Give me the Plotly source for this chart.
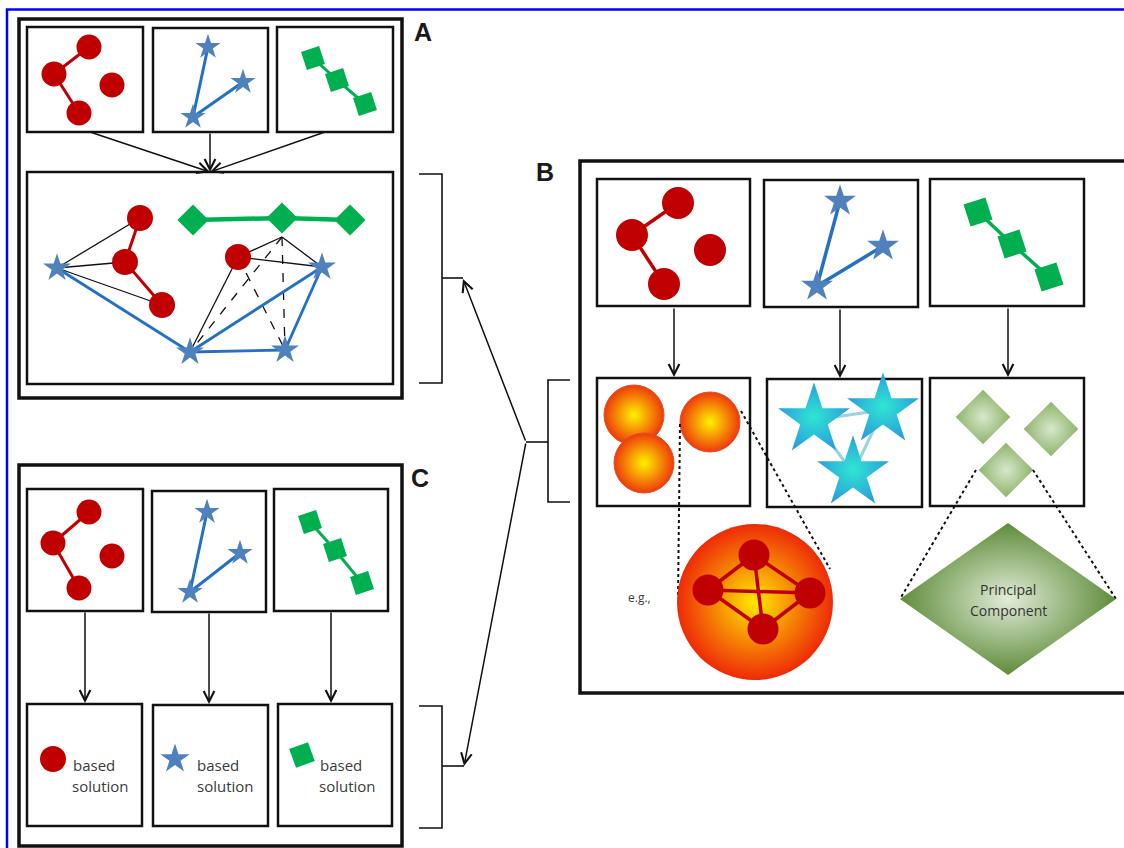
import plotly.graph_objects as go

W, H = 1124, 848

# ---------------- data (diagram element positions, image pixel coords) ----------------
FRAME_A = (19, 19, 402, 398)
FRAME_B = (580, 161, 1132, 693)
FRAME_C = (19, 465, 402, 846)

A_TOP_BOXES = [(27, 27, 143, 132), (153, 28, 268, 132), (277, 27, 393, 132)]
A_LOW_BOX = (27, 172, 393, 384)
B_ROW1_BOXES = [(597, 179, 750, 306), (764, 180, 918, 307), (930, 179, 1084, 306)]
B_ROW2_BOXES = [(597, 378, 750, 506), (767, 379, 922, 507), (930, 378, 1084, 506)]
C_ROW1_BOXES = [(27, 489, 143, 611), (152, 491, 266, 612), (274, 489, 388, 611)]
C_ROW2_BOXES = [(27, 704, 142, 826), (153, 705, 268, 826), (278, 704, 392, 826)]

# cluster glyphs in the small input boxes
A_RED_X, A_RED_Y = [89, 54, 112, 79], [47, 74, 85, 113]
A_STAR_X, A_STAR_Y = [208, 243, 193], [47, 82, 117]
A_GRN_X, A_GRN_Y = [313, 337, 365], [58, 80, 104]
C_RED_X, C_RED_Y = [89, 53, 112, 79], [512, 543, 556, 588]
C_STAR_X, C_STAR_Y = [207, 240, 190], [512, 553, 592]
C_GRN_X, C_GRN_Y = [310, 335, 362], [522, 550, 583]
B_RED_X, B_RED_Y = [678, 632, 710, 664], [203, 235, 250, 284]
B_STAR_X, B_STAR_Y = [840, 883, 817], [201, 246, 286]
B_GRN_X, B_GRN_Y = [978, 1012, 1049], [212, 244, 277]
RED_LINKS = [(0, 1), (1, 3)]
STAR_LINKS = [(2, 0), (2, 1)]

# panel A combined network
AL_RED_X, AL_RED_Y = [140, 125, 162, 238], [218, 262, 305, 257]
AL_STAR_X, AL_STAR_Y = [57, 190, 285, 322], [268, 352, 350, 267]
AL_DIA_X, AL_DIA_Y = [193, 282, 350], [220, 218, 220]
AL_TIP = (282, 237)
AL_BLUE_PATH = [0, 1, 2, 3, 1]
AL_SOLID = [("s", 0, "r", 0), ("s", 0, "r", 1), ("s", 0, "r", 2),
            ("r", 3, "t", 0), ("r", 3, "s", 3), ("r", 3, "s", 1), ("t", 0, "s", 3)]
AL_DASHED = [("r", 3, "s", 2), ("t", 0, "s", 1), ("t", 0, "s", 2)]

# panel B second row
B_SPH_X, B_SPH_Y = [634, 644, 710], [415, 463, 422]
B_CYAN_X, B_CYAN_Y = [814, 883, 853], [420, 410, 473]
B_CYAN_LINKS = [(0, 1), (1, 2), (0, 2)]
B_LGRN_X, B_LGRN_Y = [983, 1051, 1006], [417, 429, 470]

# panel B zoomed examples
BIG_SPHERE = (755, 602)
BIG_RED_X, BIG_RED_Y = [754, 708, 810, 763], [555, 590, 593, 629]
BIG_RED_LINKS = [(0, 1), (0, 2), (1, 3), (2, 3), (1, 2), (0, 3)]
SPH_DOTS = [((680, 424), (678, 599)), ((741, 411), (830, 569))]
PC_CENTER, PC_HALF = (1008, 599), (108, 76)
PC_DOTS = [((976, 470), (900, 599)), ((1033, 470), (1116, 599))]

# panel C solution icons and labels
C_SOL_X, C_SOL_Y = [53, 175, 302], [759, 759, 755]
C_TXT1_X, C_TXT2_X = [94, 218, 341], [100, 225, 347]
C_TXT_Y = [765, 786]

# arrows (tail -> head)
ARROWS = [((90, 132), (210, 172)), ((210, 132), (210, 172)), ((325, 132), (210, 172)),
          ((674, 307), (674, 377)), ((840, 308), (840, 378)), ((1008, 307), (1008, 377)),
          ((85, 611), (85, 703)), ((209, 612), (209, 704)), ((331, 611), (331, 703)),
          ((526, 442), (463, 279)), ((526, 442), (464, 766))]

# brackets: (x_spine, y_top, y_bottom, x_tick, y_mid, x_mid)
BRACKETS = [(442, 174, 383, 419, 278, 463), (442, 706, 828, 419, 766, 464),
            (548, 380, 502, 570, 442, 526)]

LABELS = [("A", 423, 32), ("B", 545, 172), ("C", 420, 478)]

RED = "#C00000"
STAR_BLUE = "#4F81BD"
LINE_BLUE = "#2370C4"
GREEN = "#00B050"
INK = "#111111"

fig = go.Figure()


def line(xs, ys, color=INK, width=1.5, dash="solid"):
    fig.add_trace(go.Scatter(x=xs, y=ys, mode="lines", hoverinfo="skip",
                             line=dict(color=color, width=width, dash=dash)))


def pts(xs, ys, symbol, size, color, angle=0, gradient=None, lw=0, lc=None):
    m = dict(symbol=symbol, size=size, color=color, angle=angle,
             line=dict(width=lw, color=lc or color))
    if gradient:
        m["gradient"] = dict(type="radial", color=gradient)
    fig.add_trace(go.Scatter(x=xs, y=ys, mode="markers", hoverinfo="skip", marker=m))


shapes = []


def rect(b, width=2.5):
    shapes.append(dict(type="rect", xref="x", yref="y", x0=b[0], y0=b[1], x1=b[2], y1=b[3],
                       line=dict(color=INK, width=width), fillcolor="rgba(0,0,0,0)",
                       layer="below"))


for fr in (FRAME_A, FRAME_B, FRAME_C):
    rect(fr, 3.5)
for b in A_TOP_BOXES + [A_LOW_BOX] + B_ROW1_BOXES + B_ROW2_BOXES + C_ROW1_BOXES + C_ROW2_BOXES:
    rect(b, 2.5)

# blue border
line([7, 7, W], [H, 9.5, 9.5], color="#0000FF", width=2.5)

# brackets
for xs, yt, yb, xt, ym, xm in BRACKETS:
    line([xt, xs, xs, xt], [yt, yt, yb, yb], width=1.6)
    line([xs, xm], [ym, ym], width=1.6)


# small clusters
def clusters(rx, ry, sx, sy, gx, gy, rsize, ssize, gsize, rlw, slw, glw):
    for a, b in RED_LINKS:
        line([rx[a], rx[b]], [ry[a], ry[b]], color=RED, width=rlw)
    pts(rx, ry, "circle", rsize, RED)
    for a, b in STAR_LINKS:
        line([sx[a], sx[b]], [sy[a], sy[b]], color=LINE_BLUE, width=slw)
    pts(sx, sy, "star", ssize, STAR_BLUE)
    line(gx, gy, color=GREEN, width=glw)
    pts(gx, gy, "square", gsize, GREEN, angle=-18)


clusters(A_RED_X, A_RED_Y, A_STAR_X, A_STAR_Y, A_GRN_X, A_GRN_Y, 25, 19, 19, 3, 3, 3)
clusters(C_RED_X, C_RED_Y, C_STAR_X, C_STAR_Y, C_GRN_X, C_GRN_Y, 25, 19, 19, 3, 3, 3)
clusters(B_RED_X, B_RED_Y, B_STAR_X, B_STAR_Y, B_GRN_X, B_GRN_Y, 32, 24, 23, 3.5, 3.5, 3.5)

# panel A network
line(AL_DIA_X, AL_DIA_Y, color=GREEN, width=4.5)
nodes = {"r": (AL_RED_X, AL_RED_Y), "s": (AL_STAR_X, AL_STAR_Y)}


def node(k, i):
    if k == "t":
        return AL_TIP
    return nodes[k][0][i], nodes[k][1][i]


for k1, i1, k2, i2 in AL_SOLID:
    p, q = node(k1, i1), node(k2, i2)
    line([p[0], q[0]], [p[1], q[1]], width=1.3)
for k1, i1, k2, i2 in AL_DASHED:
    p, q = node(k1, i1), node(k2, i2)
    line([p[0], q[0]], [p[1], q[1]], width=1.3, dash="dash")
line([AL_STAR_X[i] for i in AL_BLUE_PATH], [AL_STAR_Y[i] for i in AL_BLUE_PATH],
     color=LINE_BLUE, width=2.8)
line(AL_RED_X[:3], AL_RED_Y[:3], color=RED, width=3)
pts(AL_RED_X, AL_RED_Y, "circle", 26, RED)
pts(AL_STAR_X, AL_STAR_Y, "star", 21, STAR_BLUE)
pts(AL_DIA_X, AL_DIA_Y, "diamond", 24, GREEN)

# panel B row 2
pts(B_SPH_X, B_SPH_Y, "circle", 60, "#EE3A0A", gradient="#FFF200", lw=1, lc="#E05030")
for a, b in B_CYAN_LINKS:
    line([B_CYAN_X[a], B_CYAN_X[b]], [B_CYAN_Y[a], B_CYAN_Y[b]], color="#9AD2E4", width=3)
pts(B_CYAN_X, B_CYAN_Y, "star", 54, "#2A9FDC", gradient="#2FE6D2")
pts(B_LGRN_X, B_LGRN_Y, "diamond", 42, "#8DB36A", gradient="#D8E7CC")

# zoomed examples
for p, q in SPH_DOTS + PC_DOTS:
    line([p[0], q[0]], [p[1], q[1]], width=2, dash="dot")
pts([BIG_SPHERE[0]], [BIG_SPHERE[1]], "circle", 156, "#EE2A08", gradient="#FFEA00")
for a, b in BIG_RED_LINKS:
    line([BIG_RED_X[a], BIG_RED_X[b]], [BIG_RED_Y[a], BIG_RED_Y[b]], color=RED, width=3.5)
pts(BIG_RED_X, BIG_RED_Y, "circle", 31, RED)

cx, cy = PC_CENTER
hx, hy = PC_HALF
fig.add_trace(go.Scatter(x=[cx - hx, cx, cx + hx, cx, cx - hx], y=[cy, cy - hy, cy, cy + hy, cy],
                         mode="lines", fill="toself", hoverinfo="skip", line=dict(width=0),
                         fillgradient=dict(type="radial",
                                           colorscale=[[0, "#E2ECD8"], [1, "#5E8C3A"]])))

# panel C solution icons
pts([C_SOL_X[0]], [C_SOL_Y[0]], "circle", 26, RED)
pts([C_SOL_X[1]], [C_SOL_Y[1]], "star", 22, STAR_BLUE)
pts([C_SOL_X[2]], [C_SOL_Y[2]], "square", 20, GREEN, angle=-20)

annotations = []
for (tx, ty), (hx_, hy_) in ARROWS:
    annotations.append(dict(x=hx_, y=hy_, ax=tx, ay=ty, xref="x", yref="y", axref="x", ayref="y",
                            text="", showarrow=True, arrowhead=5, arrowsize=1.4,
                            arrowwidth=1.5, arrowcolor=INK))

for t, x, y in LABELS:
    annotations.append(dict(x=x, y=y, xref="x", yref="y", text="<b>%s</b>" % t, showarrow=False,
                            font=dict(family="Liberation Sans", size=25, color="#1a1a1a")))

TF = dict(family="Open Sans", size=15, color="#3a3a3a")
for i in range(3):
    annotations.append(dict(x=C_TXT1_X[i], y=C_TXT_Y[0], xref="x", yref="y", text="based",
                            showarrow=False, font=TF))
    annotations.append(dict(x=C_TXT2_X[i], y=C_TXT_Y[1], xref="x", yref="y", text="solution",
                            showarrow=False, font=TF))
annotations.append(dict(x=639, y=597, xref="x", yref="y", text="e.g.,", showarrow=False,
                        font=dict(family="Open Sans", size=12, color="#404040")))
annotations.append(dict(x=cx, y=cy - 10, xref="x", yref="y", text="Principal", showarrow=False,
                        font=dict(family="Open Sans", size=14, color="#333333")))
annotations.append(dict(x=cx, y=cy + 11, xref="x", yref="y", text="Component", showarrow=False,
                        font=dict(family="Open Sans", size=14, color="#333333")))

fig.update_layout(
    width=W, height=H, autosize=False, margin=dict(l=0, r=0, t=0, b=0),
    paper_bgcolor="white", plot_bgcolor="white", showlegend=False,
    xaxis=dict(range=[0, W], visible=False, fixedrange=True),
    yaxis=dict(range=[H, 0], visible=False, fixedrange=True),
    shapes=shapes, annotations=annotations,
)
fig.write_html("out.html", config={"displayModeBar": False},
               post_script="document.body.style.margin='0';document.body.style.overflow='hidden';")
